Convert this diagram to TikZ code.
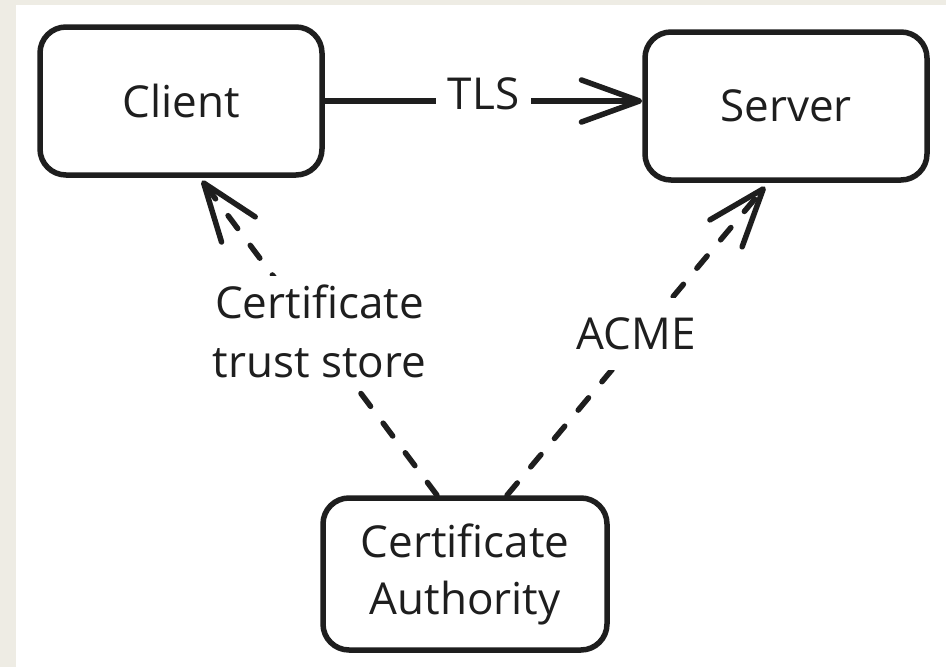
\documentclass[tikz,border=0pt]{standalone}
\usepackage{fontspec}
\setmainfont{Open Sans}
\usetikzlibrary{arrows.meta}
\definecolor{ink}{HTML}{1E1E1E}
\definecolor{paper}{HTML}{EEECE4}
\tikzset{
  x=1pt, y=-1pt,
  box/.style={draw=ink, line width=5.5pt, rounded corners=26pt, fill=white,
    minimum width=282pt, minimum height=148pt, align=center, text=ink,
    font=\fontsize{44}{57}\selectfont},
  lbl/.style={fill=white, text=ink, align=center, inner sep=5pt, yshift=7pt,
    font=\fontsize{44}{59}\selectfont},
  tip/.style={-{Straight Barb[length=58pt, width=42pt, line width=5.5pt, line cap=round, round]}},
  link/.style={draw=ink, line width=5.5pt, line cap=round, tip},
  dashlink/.style={link, dash pattern=on 16pt off 21pt}
}
\begin{document}
\begin{tikzpicture}
  % page: beige frame with white canvas
  \fill[paper] (0,0) rectangle (946,667);
  \fill[white] (16,5) rectangle (946,667);
  \useasboundingbox (0,0) rectangle (946,667);

  % boxes
  \node[box] (client) at (181,101) {Client};
  \node[box] (server) at (786,106) {Server};
  \node[box, minimum width=284pt, minimum height=152pt] (ca) at (465,574) {Certificate\\Authority};

  % TLS connection
  \draw[link] (client.east) -- node[lbl, inner xsep=12pt, inner ysep=10pt] {TLS} (client.east -| server.west);

  % certificate distribution
  \draw[dashlink] ([xshift=-28pt]ca.north) -- node[lbl, inner ysep=8pt] {Certificate\\trust store} ([xshift=21pt, yshift=-3pt]client.south);
  \draw[dashlink] ([xshift=42pt]ca.north) -- node[lbl, inner ysep=20pt] {ACME} ([xshift=-21pt, yshift=-4pt]server.south);
\end{tikzpicture}
\end{document}
